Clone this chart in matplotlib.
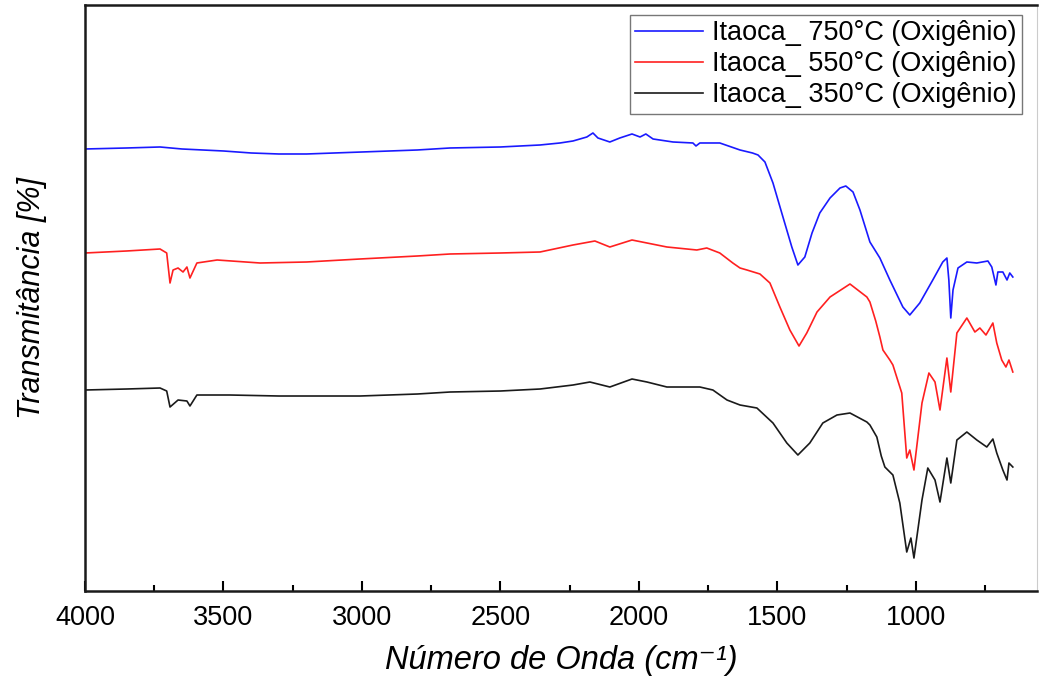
import matplotlib
matplotlib.use('Agg')
import matplotlib.pyplot as plt
from matplotlib.ticker import MultipleLocator

# wavenumber (cm-1) and transmittance (a.u.)
wn_750 = [4000, 3850, 3729, 3650, 3500, 3400, 3300, 3200, 3000, 2800, 2682, 2500, 2357,
          2285, 2238, 2188, 2166, 2148, 2105, 2069, 2025, 1996, 1975, 1949, 1877, 1805,
          1794, 1780, 1708, 1635, 1590, 1570, 1545, 1516, 1480, 1448, 1426, 1401, 1375,
          1347, 1310, 1274, 1253, 1227, 1202, 1166, 1130, 1094, 1047, 1022, 986, 939,
          903, 888, 881, 874, 866, 848, 816, 780, 740, 726, 711, 704, 686, 671, 661, 650]
t_750 = [442, 443, 444, 442, 440, 438, 437, 437, 439, 441, 443, 444, 446,
         448, 450, 454, 458, 453, 449, 453, 457, 454, 457, 452, 449, 448,
         445, 448, 448, 441, 438, 436, 429, 408, 374, 344, 326, 334, 358,
         378, 393, 403, 405, 399, 381, 349, 333, 311, 284, 276, 288, 311,
         329, 333, 311, 273, 301, 323, 329, 328, 330, 324, 306, 319, 319, 311, 318, 314]

wn_550 = [4000, 3850, 3729, 3705, 3693, 3682, 3664, 3646, 3632, 3621, 3596, 3523, 3368,
          3200, 3007, 2800, 2682, 2500, 2357, 2238, 2159, 2105, 2025, 1971, 1899, 1791,
          1755, 1708, 1661, 1635, 1610, 1563, 1527, 1491, 1455, 1422, 1394, 1357, 1310,
          1238, 1177, 1166, 1145, 1130, 1119, 1094, 1083, 1051, 1033, 1022, 1007, 978,
          953, 931, 913, 888, 874, 852, 816, 787, 769, 747, 722, 708, 690, 675, 664, 650]
t_550 = [338, 340, 342, 338, 308, 321, 323, 319, 324, 313, 328, 331, 328,
         329, 332, 335, 337, 338, 339, 346, 350, 344, 351, 348, 344, 341,
         343, 338, 328, 323, 321, 317, 308, 284, 261, 245, 258, 279, 294,
         307, 294, 289, 270, 254, 241, 231, 226, 198, 133, 141, 121, 188,
         218, 209, 181, 233, 199, 258, 273, 259, 263, 256, 268, 248, 231, 224, 231, 219]

wn_350 = [4000, 3850, 3729, 3705, 3693, 3664, 3632, 3621, 3596, 3477, 3300, 3007, 2800,
          2682, 2500, 2357, 2238, 2177, 2105, 2025, 1971, 1899, 1780, 1733, 1682, 1635,
          1574, 1516, 1466, 1426, 1383, 1336, 1285, 1238, 1177, 1166, 1141, 1125, 1112,
          1083, 1058, 1033, 1018, 1007, 978, 957, 931, 913, 888, 874, 852, 816, 780,
          744, 722, 708, 686, 671, 664, 650]
t_350 = [201, 202, 203, 200, 184, 191, 190, 185, 196, 196, 195, 195, 197,
         199, 200, 202, 206, 209, 204, 212, 209, 204, 204, 201, 191, 186,
         183, 168, 148, 136, 148, 168, 176, 178, 169, 166, 154, 135, 124,
         116, 88, 39, 53, 33, 91, 123, 111, 89, 133, 108, 151, 159, 151,
         144, 152, 138, 121, 111, 128, 124]

labels = ['Itaoca_ 750°C (Oxigênio)', 'Itaoca_ 550°C (Oxigênio)', 'Itaoca_ 350°C (Oxigênio)']
colors = ['#1a1aff', '#ff2020', '#1a1a1a']

plt.rcParams['font.family'] = ['Liberation Sans', 'DejaVu Sans']

fig = plt.figure(figsize=(10.39, 6.82), dpi=100)
ax = fig.add_axes([0.0818, 0.1334, 0.9162, 0.8593])

ax.plot(wn_750, t_750, color=colors[0], lw=1.2, label=labels[0])
ax.plot(wn_550, t_550, color=colors[1], lw=1.2, label=labels[1])
ax.plot(wn_350, t_350, color=colors[2], lw=1.2, label=labels[2])

ax.set_xlim(4000, 563)
ax.set_ylim(0, 586)
ax.xaxis.set_major_locator(MultipleLocator(500))
ax.xaxis.set_minor_locator(MultipleLocator(250))
ax.tick_params(axis='x', which='major', direction='in', length=7.5, width=1.5,
               labelsize=19.5, pad=10, top=False)
ax.tick_params(axis='x', which='minor', direction='in', length=4, width=1.5, top=False)
ax.set_yticks([])

for s in ['left', 'bottom', 'top']:
    ax.spines[s].set_linewidth(1.8)
    ax.spines[s].set_color('#1a1a1a')
ax.spines['right'].set_linewidth(0.8)
ax.spines['right'].set_color('#cccccc')

ax.set_xlabel('Número de Onda (cm⁻¹)', fontsize=23.5, style='italic', labelpad=10)
ax.set_ylabel('Transmitância [%]', fontsize=22, style='italic', labelpad=27)

leg = ax.legend(loc='upper right', bbox_to_anchor=(0.9845, 0.983), fontsize=19.5,
                frameon=True, fancybox=False, borderpad=0.2, labelspacing=0.18,
                handlelength=2.5, handletextpad=0.35, borderaxespad=0)
leg.get_frame().set_edgecolor('#555555')
leg.get_frame().set_linewidth(1.0)

fig.savefig('out.png', dpi=100)
